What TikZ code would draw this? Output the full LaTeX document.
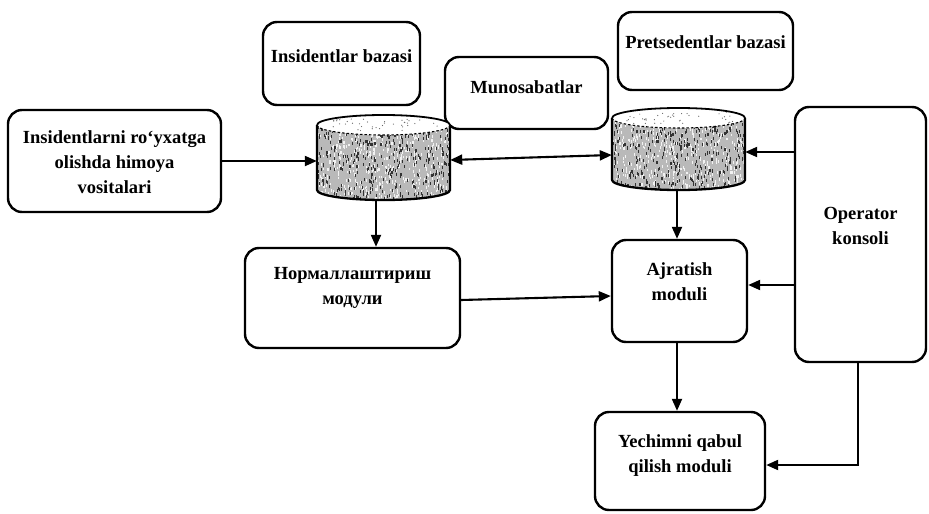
\documentclass[tikz,border=0pt]{standalone}
\usepackage{fontspec}
\setmainfont{Liberation Serif}
\usetikzlibrary{arrows.meta}

% Database drum: #1 name, #2 centre x, #3 top y, #4 bottom y
\newcommand\dbdrum[4]{%
  \pgfmathsetmacro\dmid{(#3+#4)/2}%
  \pgfmathsetmacro\dh{#4-#3}%
  \node[minimum width=133pt, minimum height=\dh pt, inner sep=0pt] (#1) at (#2,\dmid) {};
  \begin{scope}
    \clip (#2-66.5,#3+10) -- (#2-66.5,#4-10)
      arc[start angle=180,end angle=360,x radius=66.5pt,y radius=10pt]
      -- (#2+66.5,#3+10) -- cycle;
    \fill[gray!55] (#2-70,#3) rectangle (#2+70,#4);
    \foreach \k in {1,...,520}{%
      \pgfmathsetmacro\px{#2+67*rand}%
      \pgfmathsetmacro\py{\dmid+(\dh/2)*rand}%
      \fill[white!90!gray] (\px,\py) rectangle ++(1.1,2.6);
    }
    \foreach \k in {1,...,420}{%
      \pgfmathsetmacro\px{#2+67*rand}%
      \pgfmathsetmacro\py{\dmid+(\dh/2)*rand}%
      \fill[black!80] (\px,\py) rectangle ++(1.1,3);
    }
  \end{scope}
  \draw[line width=2.3pt, line join=round]
    (#2-66.5,#3+10) -- (#2-66.5,#4-10)
    arc[start angle=180,end angle=360,x radius=66.5pt,y radius=10pt]
    -- (#2+66.5,#3+10);
  \fill[white] (#2,#3+10) ellipse[x radius=66.5pt, y radius=10pt];
  \foreach \k in {1,...,40}{%
    \pgfmathsetmacro\px{#2+55*rand}%
    \pgfmathsetmacro\py{#3+10+6*rand}%
    \fill[black!60] (\px,\py) circle (0.6pt);
  }
  \draw[line width=1.8pt] (#2-66.5,#3+10)
    arc[start angle=180,end angle=0,x radius=66.5pt,y radius=10pt];
  \draw[line width=1.1pt, dash pattern=on 2.5pt off 2pt] (#2-66.5,#3+10)
    arc[start angle=180,end angle=360,x radius=66.5pt,y radius=10pt];
}

\begin{document}
\begin{tikzpicture}[x=1pt,y=-1pt,
  box/.style={draw, line width=2.4pt, rounded corners=14pt, inner sep=0pt},
  lbl/.style={font=\bfseries\fontsize{18.5}{25}\selectfont, align=center, inner sep=0pt},
  flow/.style={line width=2.1pt, -{Triangle[length=12pt,width=10pt]}},
  flowb/.style={line width=2.1pt, {Triangle[length=12pt,width=10pt]}-{Triangle[length=12pt,width=10pt]}},
]
\useasboundingbox (0,0) rectangle (929,514);
\pgfmathsetseed{4711}

% boxes
\node[box, minimum width=213pt, minimum height=102pt] (src) at (114.5,161) {};
\node[lbl] (srct) at (114.5,162) {Insidentlarni ro‘yxatga\\olishda himoya\\vositalari};

\node[box, minimum width=157pt, minimum height=83pt] (inc) at (341.5,63.5) {};
\node[lbl] (inct) at (341.5,56) {Insidentlar bazasi};

\node[box, minimum width=163pt, minimum height=72pt] (mun) at (526.5,93) {};
\node[lbl] (munt) at (526.5,87) {Munosabatlar};

\node[box, minimum width=175pt, minimum height=78pt] (pre) at (705.5,51) {};
\node[lbl] (pret) at (705.5,42) {Pretsedentlar bazasi};

\node[box, minimum width=131pt, minimum height=255pt] (op) at (860.5,234.5) {};
\node[lbl] (opt) at (860.5,226) {Operator\\konsoli};

\node[box, minimum width=215pt, minimum height=100pt] (norm) at (352.5,298) {};
\node[lbl] (normt) at (352.5,288) {Нормаллаштириш\\модули};

\node[box, minimum width=135pt, minimum height=102pt] (ajr) at (679.5,291) {};
\node[lbl] (ajrt) at (679.5,282) {Ajratish\\moduli};

\node[box, minimum width=170pt, minimum height=98pt] (yec) at (680,461) {};
\node[lbl] (yect) at (680,456) {Yechimni qabul\\qilish moduli};

% database drums
\dbdrum{db1}{383.5}{115}{200}
\dbdrum{db2}{678.5}{108}{190}

% connectors
\draw[flow] (src.east) -- (src.east -| db1.west);
\draw[flowb] ([yshift=-2.5pt]db1.east) -- ([yshift=-6pt]db2.west);
\draw[flow] ([yshift=-3pt]db2.east -| op.west) -- ([yshift=-3pt]db2.east);
\draw[flow] ([xshift=-7.5pt]db1.south) -- ([xshift=-7.5pt]db1.south |- norm.north);
\draw[flow] ([xshift=-1.5pt]db2.south) -- ([xshift=-1.5pt]db2.south |- ajr.north);
\draw[flow] ([yshift=-2pt]norm.east) -- ([yshift=-5pt]ajr.west);
\draw[flow] ([yshift=6pt]ajr.east -| op.west) -- ([yshift=6pt]ajr.east);
\draw[flow] ([xshift=-2.5pt]ajr.south) -- ([xshift=-2.5pt]ajr.south |- yec.north);
\draw[flow] ([xshift=-2.5pt]op.south) |- ([yshift=-4pt]yec.east);
\end{tikzpicture}
\end{document}
